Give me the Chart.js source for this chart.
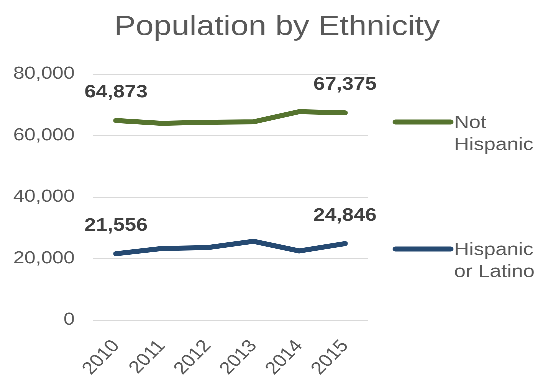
<!DOCTYPE html>
<html>
<head>
<meta charset="utf-8">
<script src="https://cdn.jsdelivr.net/npm/chart.js@4/dist/chart.umd.min.js"></script>
<style>
  html, body { margin: 0; padding: 0; background: #fff; overflow: hidden; }
  /* chart is laid out narrower and widened to 538px */
  #wrap { width: 468px; height: 381px; position: relative; transform: scaleX(1.1496); transform-origin: 0 0; }
</style>
</head>
<body>
<div id="wrap"><canvas id="ethnicityChart"></canvas></div>
<script>
  const years = ['2010', '2011', '2012', '2013', '2014', '2015'];
  const notHispanic = [64873, 63950, 64300, 64450, 67750, 67375];
  const hispanicLatino = [21556, 23250, 23550, 25600, 22450, 24846];
  const yTicks = [0, 20000, 40000, 60000, 80000];
  const seriesNames = [['Not', 'Hispanic'], ['Hispanic', 'or Latino']];
  const chartTitle = 'Population by Ethnicity';

  const FONT = '"Liberation Sans", Arial, sans-serif';
  const GREEN = '#56742f';
  const BLUE = '#264a72';
  const GREY = '#595959';

  // Title, centred a little right of the canvas middle
  const topTitle = {
    id: 'topTitle',
    afterDraw(chart) {
      const ctx = chart.ctx;
      ctx.save();
      ctx.font = '28px ' + FONT;
      ctx.fillStyle = GREY;
      ctx.textAlign = 'center';
      ctx.textBaseline = 'alphabetic';
      ctx.fillText(chartTitle, chart.width / 2 + 7, 35);
      ctx.restore();
    }
  };

  // Value labels on first and last points only
  const endLabels = {
    id: 'endLabels',
    afterDatasetsDraw(chart) {
      const ctx = chart.ctx;
      ctx.save();
      ctx.font = 'bold 18px ' + FONT;
      ctx.fillStyle = '#404040';
      ctx.textAlign = 'center';
      ctx.textBaseline = 'middle';
      chart.data.datasets.forEach((ds, i) => {
        const meta = chart.getDatasetMeta(i);
        [0, ds.data.length - 1].forEach(idx => {
          const pt = meta.data[idx];
          ctx.fillText(ds.data[idx].toLocaleString('en-US'), pt.x, pt.y - 28);
        });
      });
      ctx.restore();
    }
  };

  // Legend to the right of the plot
  const sideLegend = {
    id: 'sideLegend',
    afterDraw(chart) {
      const ctx = chart.ctx;
      const area = chart.chartArea;
      const rows = [area.top + 48, area.top + 175];
      ctx.save();
      ctx.font = '18px ' + FONT;
      ctx.fillStyle = GREY;
      ctx.textBaseline = 'middle';
      chart.data.datasets.forEach((ds, i) => {
        const ly = rows[i];
        ctx.strokeStyle = ds.borderColor;
        ctx.lineWidth = 5;
        ctx.lineCap = 'round';
        ctx.beginPath();
        ctx.moveTo(area.right + 24, ly);
        ctx.lineTo(area.right + 72, ly);
        ctx.stroke();
        seriesNames[i].forEach((line, k) => {
          ctx.fillText(line, area.right + 75, ly + 1 + k * 22);
        });
      });
      ctx.restore();
    }
  };

  new Chart(document.getElementById('ethnicityChart').getContext('2d'), {
    type: 'line',
    data: {
      labels: years,
      datasets: [
        {
          label: seriesNames[0].join(' '),
          data: notHispanic,
          borderColor: GREEN,
          borderWidth: 5,
          borderCapStyle: 'round',
          borderJoinStyle: 'round',
          pointRadius: 0,
          tension: 0
        },
        {
          label: seriesNames[1].join(' '),
          data: hispanicLatino,
          borderColor: BLUE,
          borderWidth: 5,
          borderCapStyle: 'round',
          borderJoinStyle: 'round',
          pointRadius: 0,
          tension: 0
        }
      ]
    },
    options: {
      responsive: true,
      maintainAspectRatio: false,
      animation: false,
      devicePixelRatio: 3,
      layout: { padding: { left: 0, right: 148, top: 74, bottom: 0 } },
      scales: {
        x: {
          offset: true,
          grid: { display: false },
          border: { display: false },
          ticks: {
            color: GREY,
            font: { family: FONT, size: 17.5 },
            minRotation: 49,
            maxRotation: 49,
            padding: 8
          },
          afterFit: (scale) => { scale.height = 61; }
        },
        y: {
          min: 0,
          max: 80000,
          afterBuildTicks: (scale) => { scale.ticks = yTicks.map(v => ({ value: v })); },
          grid: { color: '#d9d9d9', lineWidth: 1, drawTicks: false },
          border: { display: false },
          ticks: {
            color: GREY,
            font: { family: FONT, size: 17.5 },
            padding: 16,
            callback: (v) => v.toLocaleString('en-US')
          },
          afterFit: (scale) => { scale.width = 81; }
        }
      },
      plugins: {
        legend: { display: false },
        tooltip: { enabled: false },
        title: { display: false }
      }
    },
    plugins: [topTitle, endLabels, sideLegend]
  });
</script>
</body>
</html>
